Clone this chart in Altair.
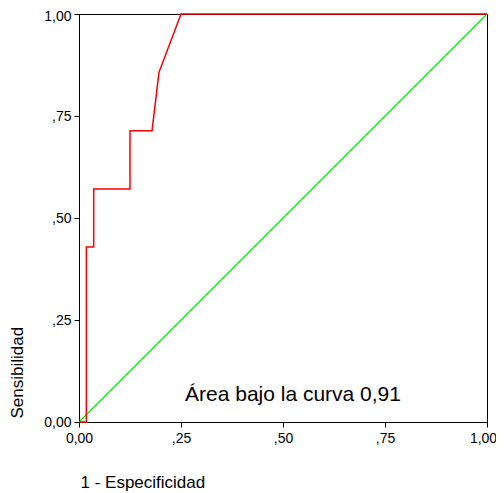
import altair as alt
import pandas as pd

# ROC curve points (1 - specificity, sensitivity)
fpr = [0.0, 0.018, 0.018, 0.036, 0.036, 0.125, 0.125, 0.179, 0.196, 0.25, 1.0]
tpr = [0.0, 0.0, 0.429, 0.429, 0.571, 0.571, 0.714, 0.714, 0.857, 1.0, 1.0]

diag_x = [0.0, 1.0]
diag_y = [0.0, 1.0]

tick_values = [0.0, 0.25, 0.5, 0.75, 1.0]
tick_labels = ["0,00", ",25", ",50", ",75", "1,00"]

annotation = "Área bajo la curva 0,91"
ann_x = [0.5245]
ann_y = [0.0515]

FONT = "Liberation Sans"


def label_expr(vals, labs):
    expr = "''"
    for v, l in reversed(list(zip(vals, labs))):
        expr = f"(abs(datum.value - {v}) < 0.001) ? '{l}' : ({expr})"
    return expr


lexpr = label_expr(tick_values, tick_labels)

roc = pd.DataFrame({"x": fpr, "y": tpr, "i": list(range(len(fpr)))})
diag = pd.DataFrame({"x": diag_x, "y": diag_y, "i": [0, 1]})
ann = pd.DataFrame({"x": ann_x, "y": ann_y, "t": [annotation]})

xscale = alt.Scale(domain=[0, 1], nice=False, zero=False)
yscale = alt.Scale(domain=[0, 1], nice=False, zero=False)

xaxis = alt.Axis(
    values=tick_values, labelExpr=lexpr, grid=False,
    title="1 - Especificidad", titleFont=FONT, titleFontSize=17, titleFontWeight="normal",
    titleColor="black", titleAnchor="start", titleAlign="left", titleBaseline="alphabetic",
    titleX=1, titleY=65,
    labelFont=FONT, labelFontSize=14, labelColor="black", labelPadding=4,
    labelOffset={"condition": {"test": "datum.value > 0.99", "value": -4}, "value": 0},
    tickSize=5, tickColor="black", domainColor="black", labelFlush=False,
)
yaxis = alt.Axis(
    values=tick_values, labelExpr=lexpr, grid=False,
    title="Sensibilidad", titleFont=FONT, titleFontSize=17, titleFontWeight="normal",
    titleColor="black", titleAnchor="start", titleAlign="left", titleBaseline="alphabetic",
    titleAngle=270, titleX=-57, titleY=404,
    labelFont=FONT, labelFontSize=14, labelColor="black", labelPadding=3,
    labelOffset={"condition": {"test": "datum.value > 0.99", "value": 2}, "value": 0},
    tickSize=5, tickColor="black", domainColor="black", labelFlush=False,
)

diag_line = alt.Chart(diag).mark_line(color="#00ee00", strokeWidth=1.2).encode(
    x=alt.X("x:Q", scale=xscale, axis=xaxis),
    y=alt.Y("y:Q", scale=yscale, axis=yaxis),
    order="i:Q",
)

roc_line = alt.Chart(roc).mark_line(color="#ff0000", strokeWidth=1.5).encode(
    x=alt.X("x:Q", scale=xscale),
    y=alt.Y("y:Q", scale=yscale),
    order="i:Q",
)

text = alt.Chart(ann).mark_text(
    font=FONT, fontSize=21, color="black", align="center", baseline="alphabetic"
).encode(
    x=alt.X("x:Q", scale=xscale),
    y=alt.Y("y:Q", scale=yscale),
    text="t:N",
)

chart = (
    alt.layer(diag_line, roc_line, text)
    .properties(
        width=408, height=408,
        autosize=alt.AutoSizeParams(type="none"),
        padding={"left": 71, "top": 6, "right": 9, "bottom": 70},
        background="white",
    )
    .configure_view(stroke="black", strokeWidth=1)
)

chart.save("out.html", embed_options={"renderer": "svg", "actions": False})
